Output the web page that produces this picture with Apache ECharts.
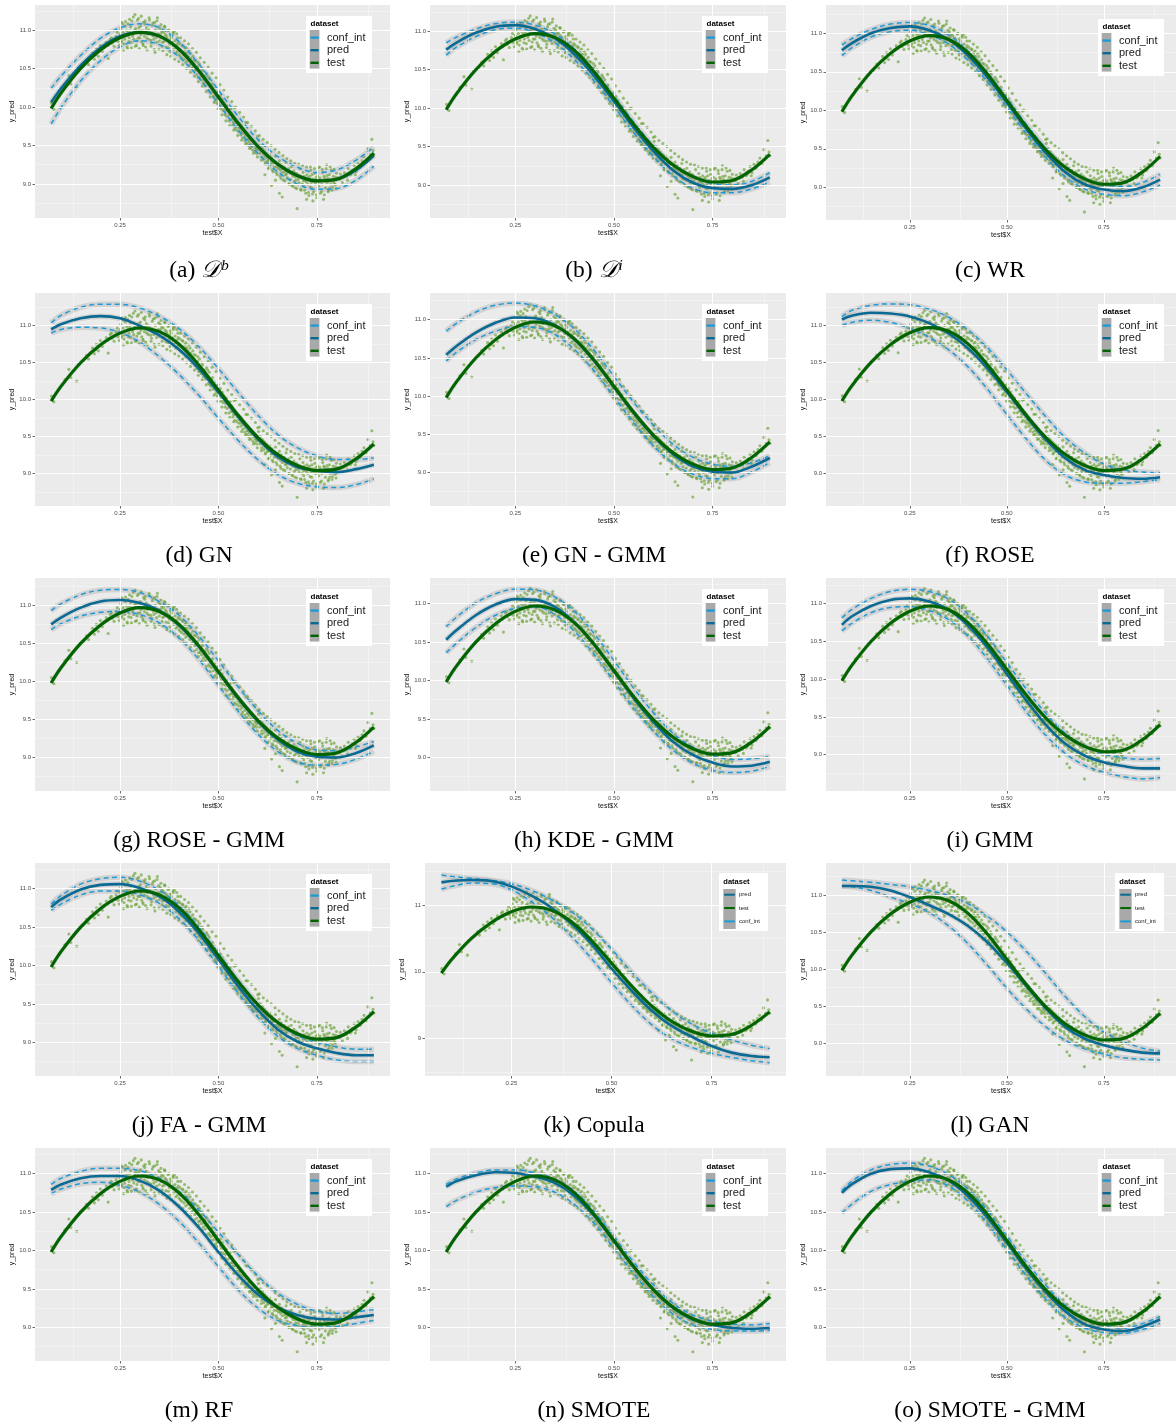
<!DOCTYPE html>
<html><head><meta charset="utf-8">
<script src="https://cdn.jsdelivr.net/npm/echarts/dist/echarts.min.js"></script>
<style>html,body{margin:0;padding:0;background:#fff}#c{width:1176px;height:1428px}</style>
</head><body><div id="c"></div>
<script>
// ---------------- DATA ----------------
const xs = [0.075,0.1,0.15,0.2,0.25,0.3,0.35,0.4,0.45,0.5,0.55,0.6,0.65,0.7,0.75,0.8,0.85,0.895];
const testLine = [9.98,10.18,10.50,10.74,10.90,10.97,10.92,10.75,10.47,10.13,9.79,9.49,9.26,9.11,9.04,9.06,9.20,9.40];

const predA = [10.06,10.24,10.54,10.77,10.92,10.97,10.92,10.75,10.47,10.13,9.79,9.49,9.26,9.11,9.04,9.06,9.18,9.37];
const upA   = [10.24,10.40,10.67,10.89,11.03,11.08,11.03,10.85,10.56,10.22,9.88,9.58,9.36,9.22,9.15,9.18,9.31,9.48];
const loA   = [9.78,9.99,10.34,10.60,10.78,10.86,10.81,10.65,10.38,10.04,9.70,9.40,9.16,9.00,8.93,8.94,9.05,9.23];

const predB = [10.76,10.85,10.98,11.06,11.08,11.03,10.91,10.70,10.42,10.09,9.75,9.44,9.19,9.03,8.96,8.95,9.00,9.10];
const upB   = [10.85,10.92,11.03,11.10,11.12,11.08,10.97,10.77,10.49,10.16,9.82,9.51,9.26,9.10,9.02,9.00,9.05,9.16];
const loB   = [10.69,10.79,10.93,11.02,11.04,10.98,10.85,10.63,10.35,10.02,9.68,9.37,9.12,8.96,8.90,8.90,8.95,9.04];

const predC = [10.78,10.87,11.00,11.07,11.09,11.04,10.92,10.71,10.43,10.10,9.76,9.45,9.20,9.04,8.97,8.95,9.00,9.10];
const upC   = [10.85,10.93,11.05,11.12,11.14,11.10,10.98,10.77,10.49,10.16,9.82,9.51,9.26,9.10,9.03,9.01,9.06,9.17];
const loC   = [10.71,10.81,10.95,11.02,11.04,10.98,10.86,10.65,10.37,10.04,9.70,9.39,9.14,8.98,8.91,8.89,8.94,9.03];

const predD = [10.95,11.02,11.10,11.13,11.10,11.00,10.87,10.68,10.42,10.10,9.77,9.47,9.23,9.09,9.04,9.02,9.06,9.12];
const upD   = [11.04,11.14,11.25,11.29,11.29,11.24,11.13,10.96,10.72,10.42,10.10,9.79,9.53,9.35,9.24,9.19,9.19,9.21];
const loD   = [10.90,10.95,10.98,10.97,10.91,10.78,10.58,10.34,10.06,9.75,9.45,9.19,8.99,8.87,8.82,8.81,8.85,8.93];

const predE = [10.54,10.65,10.83,10.96,11.03,11.02,10.93,10.74,10.46,10.12,9.78,9.48,9.24,9.08,9.01,9.00,9.08,9.19];
const upE   = [10.85,10.95,11.10,11.19,11.22,11.18,11.07,10.88,10.60,10.26,9.92,9.62,9.37,9.20,9.11,9.08,9.13,9.22];
const loE   = [10.46,10.57,10.74,10.85,10.91,10.90,10.81,10.61,10.33,9.99,9.65,9.35,9.12,8.98,8.92,8.92,9.01,9.13];

const predF = [11.08,11.13,11.17,11.16,11.12,11.03,10.89,10.69,10.42,10.10,9.77,9.46,9.21,9.05,8.98,8.94,8.93,8.95];
const upF   = [11.12,11.20,11.27,11.29,11.28,11.22,11.11,10.94,10.70,10.40,10.08,9.77,9.49,9.28,9.13,9.05,9.02,9.01];
const loF   = [11.00,11.04,11.07,11.04,10.96,10.84,10.67,10.44,10.14,9.80,9.47,9.18,8.98,8.89,8.87,8.87,8.89,8.92];

const predG = [10.75,10.84,10.97,11.05,11.07,11.03,10.93,10.74,10.46,10.12,9.78,9.48,9.24,9.08,9.01,9.00,9.06,9.16];
const upG   = [10.93,11.02,11.14,11.20,11.21,11.17,11.05,10.87,10.60,10.27,9.93,9.62,9.36,9.19,9.10,9.09,9.14,9.21];
const loG   = [10.68,10.76,10.86,10.91,10.92,10.88,10.77,10.57,10.29,9.95,9.61,9.31,9.08,8.94,8.90,8.91,8.98,9.08];

const predH = [10.53,10.65,10.85,10.99,11.06,11.05,10.96,10.76,10.47,10.12,9.77,9.46,9.20,9.03,8.93,8.88,8.89,8.94];
const upH   = [10.70,10.82,11.01,11.13,11.19,11.18,11.09,10.90,10.61,10.26,9.90,9.58,9.31,9.13,9.02,8.97,8.98,9.01];
const loH   = [10.36,10.48,10.69,10.85,10.94,10.96,10.86,10.64,10.34,9.99,9.64,9.34,9.09,8.92,8.83,8.80,8.82,8.88];

const predI = [10.72,10.83,10.97,11.05,11.07,11.03,10.92,10.71,10.42,10.07,9.72,9.40,9.15,8.99,8.90,8.85,8.82,8.82];
const upI   = [10.81,10.92,11.07,11.16,11.19,11.16,11.06,10.86,10.57,10.22,9.87,9.55,9.29,9.12,9.01,8.96,8.94,8.95];
const loI   = [10.64,10.74,10.88,10.95,10.96,10.91,10.79,10.57,10.27,9.92,9.57,9.26,9.02,8.86,8.77,8.71,8.68,8.70];

const predJ = [10.76,10.86,10.99,11.05,11.06,11.01,10.90,10.70,10.42,10.08,9.73,9.42,9.17,9.01,8.92,8.86,8.83,8.83];
const upJ   = [10.80,10.91,11.06,11.13,11.15,11.10,10.98,10.78,10.50,10.16,9.81,9.50,9.25,9.09,9.00,8.94,8.91,8.91];
const loJ   = [10.72,10.80,10.92,10.97,10.97,10.92,10.81,10.61,10.33,9.99,9.64,9.33,9.08,8.92,8.83,8.77,8.75,8.75];

const predK = [11.34,11.36,11.375,11.36,11.28,11.14,10.96,10.72,10.42,10.05,9.72,9.42,9.19,9.03,8.89,8.79,8.74,8.72];
const upK   = [11.45,11.43,11.40,11.37,11.32,11.22,11.08,10.90,10.65,10.34,10.00,9.69,9.42,9.22,9.08,8.98,8.90,8.85];
const loK   = [11.24,11.28,11.33,11.32,11.23,11.05,10.82,10.53,10.20,9.84,9.50,9.21,9.00,8.87,8.78,8.72,8.67,8.64];

const predL = [11.12,11.12,11.11,11.06,10.97,10.86,10.74,10.58,10.36,10.08,9.77,9.47,9.22,9.06,8.97,8.91,8.87,8.86];
const upL   = [11.20,11.19,11.17,11.14,11.11,11.06,10.99,10.88,10.71,10.50,10.24,9.94,9.63,9.36,9.15,9.02,8.93,8.89];
const loL   = [11.12,11.11,11.06,10.97,10.88,10.76,10.58,10.34,10.05,9.74,9.46,9.22,9.04,8.92,8.85,8.80,8.78,8.77];

const predM = [10.79,10.86,10.94,10.97,10.97,10.91,10.78,10.57,10.30,9.98,9.68,9.43,9.26,9.16,9.11,9.10,9.13,9.16];
const upM   = [10.86,10.94,11.03,11.07,11.07,11.04,10.94,10.77,10.53,10.24,9.95,9.67,9.45,9.30,9.21,9.18,9.20,9.23];
const loM   = [10.74,10.80,10.87,10.89,10.85,10.76,10.60,10.38,10.10,9.79,9.49,9.25,9.09,9.02,9.00,9.01,9.05,9.09];

const predN = [10.83,10.90,10.98,11.02,11.01,10.96,10.88,10.71,10.45,10.12,9.79,9.49,9.25,9.10,9.03,8.99,8.98,8.99];
const upN   = [10.86,10.93,11.01,11.05,11.05,11.01,10.93,10.77,10.51,10.18,9.85,9.55,9.31,9.16,9.08,9.04,9.03,9.05];
const loN   = [10.57,10.65,10.76,10.82,10.84,10.83,10.76,10.60,10.35,10.03,9.70,9.40,9.17,9.03,8.97,8.95,8.95,8.96];

const predO = [10.75,10.86,11.00,11.06,11.07,11.02,10.91,10.71,10.43,10.10,9.76,9.46,9.21,9.04,8.97,8.95,9.01,9.10];
const upO   = [10.78,10.90,11.05,11.12,11.14,11.10,10.99,10.80,10.52,10.19,9.85,9.55,9.29,9.11,9.02,8.99,9.05,9.14];
const loO   = [10.49,10.60,10.77,10.86,10.90,10.92,10.84,10.64,10.35,10.01,9.67,9.37,9.13,8.99,8.93,8.92,8.97,9.05];

// test observations (same in every panel)
const testPoints = [
[0.076,10.05],[0.079,10.01],[0.082,9.97],[0.095,10.14],[0.11,10.27],[0.12,10.41],[0.125,10.30],[0.14,10.25],[0.145,10.48],[0.155,10.52],
[0.165,10.60],[0.17,10.55],[0.18,10.70],[0.185,10.62],[0.19,10.75],[0.195,10.66],[0.2,10.80],[0.205,10.72],[0.21,10.78],[0.215,10.84],
[0.22,10.63],[0.225,10.88],[0.23,10.83],[0.235,10.79],[0.24,10.92],[0.245,10.85],[0.25,10.95],[0.248,10.80],
[0.252,11.02],[0.255,10.86],[0.258,10.97],[0.26,10.82],[0.263,11.05],[0.266,10.93],[0.268,10.78],[0.27,11.08],[0.273,10.90],[0.275,10.99],
[0.278,10.84],[0.28,11.12],[0.283,10.95],[0.285,10.88],[0.288,11.20],[0.29,11.02],[0.292,10.80],[0.295,10.97],[0.297,11.15],[0.3,10.90],
[0.302,11.05],[0.305,10.85],[0.307,10.99],[0.31,11.10],[0.312,10.92],[0.315,10.78],[0.317,11.03],[0.32,10.95],[0.322,10.88],[0.325,11.13],
[0.327,10.97],[0.33,10.83],[0.332,11.06],[0.335,10.92],[0.337,10.75],[0.34,11.00],[0.342,10.90],[0.345,11.16],[0.347,10.95],[0.35,10.86],
[0.352,11.02],[0.355,10.90],[0.357,10.79],[0.36,10.97],[0.362,10.85],[0.365,10.94],[0.367,10.78],[0.37,10.89],[0.372,10.99],[0.375,10.82],
[0.377,10.72],[0.38,10.90],[0.382,10.80],[0.385,10.95],[0.387,10.75],[0.39,10.86],[0.392,10.70],[0.395,10.81],[0.397,10.90],[0.4,10.68],
[0.402,10.82],[0.405,10.72],[0.407,10.64],[0.41,10.79],[0.412,10.68],[0.415,10.75],[0.417,10.58],[0.42,10.70],[0.422,10.60],[0.425,10.74],
[0.427,10.55],[0.43,10.63],[0.432,10.50],[0.435,10.66],[0.437,10.56],[0.44,10.47],[0.442,10.60],[0.445,10.42],[0.447,10.52],[0.45,10.38],
[0.452,10.55],[0.455,10.44],[0.457,10.35],[0.46,10.47],[0.462,10.31],[0.465,10.40],[0.467,10.28],[0.47,10.43],[0.472,10.32],[0.475,10.22],
[0.477,10.37],[0.48,10.25],[0.482,10.18],[0.485,10.30],[0.487,10.14],[0.49,10.24],[0.492,10.08],[0.495,10.19],[0.497,10.05],[0.5,10.20],
[0.502,10.06],[0.505,10.15],[0.507,9.98],[0.51,10.10],[0.512,9.96],[0.515,10.04],[0.517,9.90],[0.52,10.02],[0.522,9.88],[0.525,9.95],
[0.527,9.82],[0.53,9.97],[0.532,9.84],[0.535,9.90],[0.537,9.76],[0.54,9.86],[0.542,9.72],[0.545,9.83],[0.547,9.70],[0.55,9.80],
[0.552,9.68],[0.555,9.77],[0.557,9.64],[0.56,9.74],[0.562,9.60],[0.565,9.70],[0.567,9.56],[0.57,9.66],[0.572,9.53],[0.575,9.64],
[0.577,9.50],[0.58,9.60],[0.582,9.47],[0.585,9.57],[0.587,9.44],[0.59,9.55],[0.592,9.42],[0.595,9.52],[0.597,9.40],[0.6,9.48],
[0.602,9.57],[0.605,9.40],[0.607,9.50],[0.61,9.35],[0.612,9.46],[0.615,9.32],[0.617,9.43],[0.62,9.28],[0.622,9.40],[0.625,9.30],
[0.627,9.20],[0.63,9.38],[0.632,9.25],[0.635,9.34],[0.637,9.18],[0.64,9.30],[0.642,9.22],[0.645,9.36],[0.647,9.15],[0.65,9.27],
[0.652,9.20],[0.655,9.30],[0.657,9.10],[0.66,9.25],[0.662,9.15],[0.665,9.05],[0.667,9.22],[0.67,9.12],[0.672,9.28],[0.675,9.08],
[0.677,9.18],[0.68,9.00],[0.682,9.14],[0.685,9.22],[0.687,8.98],[0.69,9.10],[0.692,9.17],[0.695,8.95],[0.697,9.05],[0.7,8.68],
[0.702,9.12],[0.705,9.02],[0.707,9.20],[0.71,8.92],[0.712,9.08],[0.715,9.15],[0.717,8.97],[0.72,9.05],[0.722,8.88],[0.725,9.12],
[0.727,9.00],[0.73,8.85],[0.732,9.10],[0.735,9.18],[0.737,8.95],[0.74,9.06],[0.742,8.90],[0.745,9.14],[0.747,9.00],[0.75,8.82],
[0.752,9.10],[0.755,8.97],[0.757,9.22],[0.76,9.04],[0.762,8.90],[0.765,9.15],[0.767,8.80],[0.77,9.08],[0.772,8.95],[0.775,9.25],
[0.777,9.02],[0.78,8.92],[0.782,9.12],[0.785,9.00],[0.787,9.18],[0.79,8.96],[0.792,9.10],[0.795,9.05],[0.797,8.99],[0.8,9.14],
[0.805,9.08],[0.81,9.13],[0.815,9.02],[0.82,9.15],[0.825,9.10],[0.83,9.20],[0.835,9.12],[0.84,9.18],[0.845,9.24],[0.85,9.16],
[0.855,9.27],[0.86,9.22],[0.865,9.30],[0.87,9.35],[0.875,9.28],[0.88,9.46],[0.885,9.38],[0.89,9.58],[0.893,9.43],[0.895,9.38],
[0.251,10.90],[0.257,11.08],[0.262,10.88],[0.267,10.99],[0.272,10.85],[0.277,11.04],[0.282,10.92],[0.287,11.00],[0.293,10.86],[0.298,11.03],
[0.303,10.94],[0.308,10.82],[0.313,11.08],[0.318,10.90],[0.323,11.00],[0.328,10.87],[0.333,10.96],[0.338,11.10],[0.343,10.84],[0.348,11.04],
[0.353,10.95],[0.358,10.84],[0.363,11.05],[0.368,10.92],[0.373,10.77],[0.378,10.93],[0.383,10.84],[0.388,10.98],[0.393,10.76],[0.398,10.84],
[0.403,10.66],[0.408,10.80],[0.413,10.62],[0.418,10.77],[0.423,10.66],[0.428,10.70],[0.433,10.56],[0.438,10.61],[0.443,10.49],[0.448,10.58],
[0.453,10.38],[0.458,10.50],[0.463,10.36],[0.468,10.33],[0.473,10.40],[0.478,10.20],[0.483,10.27],[0.488,10.20],[0.493,10.15],[0.498,10.10],
[0.503,10.12],[0.508,10.03],[0.513,10.06],[0.518,9.95],[0.523,9.97],[0.528,9.90],[0.533,9.92],[0.538,9.80],[0.543,9.80],[0.548,9.75],
[0.553,9.73],[0.558,9.68],[0.563,9.66],[0.568,9.62],[0.573,9.58],[0.578,9.55],[0.583,9.52],[0.588,9.50],[0.593,9.47],[0.598,9.44],
[0.603,9.45],[0.608,9.43],[0.613,9.40],[0.618,9.36],[0.623,9.34],[0.628,9.31],[0.633,9.30],[0.638,9.26],[0.643,9.28],[0.648,9.22],
[0.653,9.24],[0.658,9.18],[0.663,9.20],[0.668,9.16],[0.673,9.13],[0.678,9.20],[0.683,9.06],[0.688,9.12],[0.693,9.03],[0.698,9.14],
[0.703,9.06],[0.708,9.10],[0.713,9.00],[0.718,9.10],[0.723,9.03],[0.728,9.08],[0.733,8.96],[0.738,9.12],[0.743,9.03],[0.748,9.08],
[0.753,9.02],[0.758,9.08],[0.763,9.00],[0.768,9.10],[0.773,9.03],[0.778,9.07],[0.783,8.95],[0.788,9.06],[0.793,9.02],[0.798,9.09],
[0.655,8.88],[0.662,8.83],[0.724,8.80],[0.74,8.78],[0.635,8.98],[0.645,9.05],[0.618,9.12],[0.6,9.62],[0.57,9.80],[0.54,9.99],
[0.254,11.10],[0.259,10.74],[0.264,11.11],[0.269,10.76],[0.274,11.14],[0.279,10.77],[0.284,11.17],[0.289,10.79],[0.294,11.13],[0.299,10.76],
[0.304,11.18],[0.309,10.80],[0.314,11.12],[0.319,10.74],[0.324,11.16],[0.329,10.79],[0.334,11.09],[0.339,10.71],[0.344,11.12],[0.349,10.75],
[0.354,11.07],[0.359,10.73],[0.364,11.04],[0.369,10.68],[0.374,11.00],[0.379,10.66],[0.384,10.97],[0.389,10.62],[0.394,10.95],[0.399,10.59],
[0.404,10.90],[0.409,10.55],[0.414,10.86],[0.419,10.50],[0.424,10.82],[0.429,10.45],[0.434,10.76],[0.439,10.40],[0.444,10.71],[0.449,10.33],
[0.454,10.64],[0.459,10.27],[0.464,10.58],[0.469,10.20],[0.474,10.52],[0.479,10.13],[0.484,10.44],[0.489,10.06],[0.494,10.38],[0.499,9.98],
[0.504,10.29],[0.509,9.90],[0.514,10.22],[0.519,9.82],[0.524,10.13],[0.529,9.76],[0.534,10.07],[0.539,9.70],[0.544,10.00],[0.549,9.63],
[0.554,9.93],[0.559,9.57],[0.564,9.87],[0.569,9.52],[0.574,9.80],[0.579,9.46],[0.584,9.75],[0.589,9.40],[0.594,9.69],[0.599,9.35],
[0.604,9.63],[0.609,9.31],[0.614,9.58],[0.619,9.26],[0.624,9.54],[0.629,9.21],[0.634,9.50],[0.639,9.16],[0.644,9.45],[0.649,9.12],
[0.654,9.41],[0.659,9.07],[0.664,9.37],[0.669,9.04],[0.674,9.33],[0.679,9.00],[0.684,9.30],[0.689,8.97],[0.694,9.27],[0.699,8.94],
[0.704,9.26],[0.709,8.93],[0.714,9.24],[0.719,8.92],[0.724,9.22],[0.729,8.89],[0.734,9.22],[0.739,8.87],[0.744,9.20],[0.749,8.86],
[0.754,9.21],[0.759,8.88],[0.764,9.19],[0.769,8.86],[0.774,9.20],[0.779,8.90],[0.784,9.22],[0.789,8.92],[0.794,9.19],[0.799,8.94],
[0.253,10.84],[0.271,10.96],[0.296,10.90],[0.316,10.99],[0.336,10.88],[0.356,10.98],[0.376,10.87],[0.396,10.72],[0.416,10.70],[0.436,10.52],
[0.456,10.41],[0.476,10.29],[0.496,10.12],[0.516,10.00],[0.536,9.84],[0.556,9.72],[0.576,9.58],[0.596,9.46],[0.616,9.39],[0.636,9.27],
[0.656,9.21],[0.676,9.16],[0.696,9.09],[0.716,9.04],[0.736,9.02],[0.756,9.05],[0.776,9.11],[0.796,9.00],[0.808,9.06],[0.818,9.09],
[0.828,9.05],[0.838,9.14],[0.848,9.12],[0.175,10.63],[0.188,10.68],[0.208,10.76],[0.218,10.80],[0.228,10.90],[0.238,10.86],[0.243,10.97]
];

const xTicks = [0.25, 0.5, 0.75];
const xMinor = [0.125, 0.375, 0.625, 0.875];
const yTicks = [9.0, 9.5, 10.0, 10.5, 11.0];
const yMinor = [8.75, 9.25, 9.75, 10.25, 10.75, 11.25];
const yTicksWide = [9, 10, 11];
const yMinorWide = [8.5, 9.5, 10.5, 11.5];
const legendStd = ['conf_int', 'pred', 'test'];
const legendAlt = ['pred', 'test', 'conf_int'];

// ---------------- LAYOUT ----------------
const panels = [
 {cap:'(a) {d|𝒟}{s|b}', pred:predA, up:upA, lo:loA, left:35,  top:5,    width:355, height:213, ymin:8.558, ymax:11.325},
 {cap:'(b) {d|𝒟}{s|i}', pred:predB, up:upB, lo:loB, left:430, top:5,    width:356, height:213, ymin:8.571, ymax:11.342},
 {cap:'(c) WR',          pred:predC, up:upC, lo:loC, left:826, top:5,    width:356, height:215, ymin:8.575, ymax:11.368, legDy:3},
 {cap:'(d) GN',          pred:predD, up:upD, lo:loD, left:35,  top:293,  width:355, height:213, ymin:8.561, ymax:11.443},
 {cap:'(e) GN - GMM',    pred:predE, up:upE, lo:loE, left:430, top:293,  width:356, height:213, ymin:8.562, ymax:11.350},
 {cap:'(f) ROSE',        pred:predF, up:upF, lo:loF, left:826, top:293,  width:356, height:213, ymin:8.562, ymax:11.437},
 {cap:'(g) ROSE - GMM',  pred:predG, up:upG, lo:loG, left:35,  top:578,  width:355, height:213, ymin:8.560, ymax:11.360},
 {cap:'(h) KDE - GMM',   pred:predH, up:upH, lo:loH, left:430, top:578,  width:356, height:213, ymin:8.560, ymax:11.335},
 {cap:'(i) GMM',         pred:predI, up:upI, lo:loI, left:826, top:578,  width:356, height:213, ymin:8.520, ymax:11.340},
 {cap:'(j) FA - GMM',    pred:predJ, up:upJ, lo:loJ, left:35,  top:863,  width:355, height:213, ymin:8.560, ymax:11.335},
 {cap:'(k) Copula',      pred:predK, up:upK, lo:loK, left:425, top:863,  width:361, height:213, ymin:8.440, ymax:11.630, wide:true, alt:true},
 {cap:'(l) GAN',         pred:predL, up:upL, lo:loL, left:826, top:863,  width:356, height:213, ymin:8.554, ymax:11.430, alt:true},
 {cap:'(m) RF',          pred:predM, up:upM, lo:loM, left:35,  top:1148, width:355, height:213, ymin:8.560, ymax:11.335},
 {cap:'(n) SMOTE',       pred:predN, up:upN, lo:loN, left:430, top:1148, width:356, height:213, ymin:8.560, ymax:11.335},
 {cap:'(o) SMOTE - GMM', pred:predO, up:upO, lo:loO, left:826, top:1148, width:356, height:213, ymin:8.560, ymax:11.335}
];
const capCenters = [199, 594, 990];

const TEST_C = '#006400', PRED_C = '#0A6A94', CONF_C = '#1E9BD7';
const RIB = 'rgba(140,140,140,0.26)';
const colorOf = {conf_int: CONF_C, pred: PRED_C, test: TEST_C};

const grids = [], xAxes = [], yAxes = [], series = [], graphics = [];
const toPts = arr => xs.map((x, k) => [x, arr[k]]);

panels.forEach((p, i) => {
  grids.push({left:p.left, top:p.top, width:p.width, height:p.height, show:true, backgroundColor:'#EBEBEB', borderWidth:0});
  const yt = p.wide ? yTicksWide : yTicks;
  const ym = (p.wide ? yMinorWide : yMinor).filter(v => v > p.ymin && v < p.ymax);
  xAxes.push({
    gridIndex:i, type:'value', min:0.034, max:0.936,
    axisLine:{show:false}, splitLine:{show:false},
    axisTick:{show:true, customValues:xTicks, length:2.5, lineStyle:{color:'#444', width:0.8}},
    axisLabel:{customValues:xTicks, formatter:v => v.toFixed(2), fontSize:6, color:'#4D4D4D', margin:4, fontFamily:'Liberation Sans'},
    name:'test$X', nameLocation:'middle', nameGap:12,
    nameTextStyle:{fontSize:7, color:'#111', fontFamily:'Liberation Sans'}
  });
  yAxes.push({
    gridIndex:i, type:'value', min:p.ymin, max:p.ymax,
    axisLine:{show:false}, splitLine:{show:false},
    axisTick:{show:true, customValues:yt, length:2.5, lineStyle:{color:'#444', width:0.8}},
    axisLabel:{customValues:yt, formatter:v => p.wide ? String(Math.round(v)) : v.toFixed(1), fontSize:6, color:'#4D4D4D', margin:4, fontFamily:'Liberation Sans'},
    name:'y_pred', nameLocation:'middle', nameGap:19, nameRotate:90,
    nameTextStyle:{fontSize:7, color:'#111', fontFamily:'Liberation Sans'}
  });
  const gl = [];
  xMinor.forEach(v => gl.push({xAxis:v, lineStyle:{color:'#F7F7F7', width:0.6, type:'solid'}}));
  ym.forEach(v => gl.push({yAxis:v, lineStyle:{color:'#F7F7F7', width:0.6, type:'solid'}}));
  xTicks.forEach(v => gl.push({xAxis:v, lineStyle:{color:'#FFFFFF', width:1.1, type:'solid'}}));
  yt.forEach(v => gl.push({yAxis:v, lineStyle:{color:'#FFFFFF', width:1.1, type:'solid'}}));
  series.push({type:'line', xAxisIndex:i, yAxisIndex:i, data:[], z:1, silent:true,
    markLine:{silent:true, symbol:['none','none'], label:{show:false}, emphasis:{disabled:true}, animation:false, data:gl}});
  series.push({type:'scatter', xAxisIndex:i, yAxisIndex:i, data:testPoints, z:2, silent:true,
    symbol:'circle', symbolSize:3.1, itemStyle:{color:'rgba(100,160,45,0.8)'}});
  const lineS = (arr, color, width, z, dash) => ({
    type:'line', xAxisIndex:i, yAxisIndex:i, data:toPts(arr), smooth:0.35, showSymbol:false, symbol:'none', silent:true, z:z,
    lineStyle:{color:color, width:width, type: dash ? [5,3.5] : 'solid', cap:'butt'}
  });
  series.push(lineS(p.up, RIB, 5.5, 3));
  series.push(lineS(p.lo, RIB, 5.5, 3));
  series.push(lineS(p.pred, RIB, 5.5, 3));
  series.push(lineS(testLine, RIB, 4.2, 3));
  series.push(lineS(p.up, CONF_C, 1.5, 4, true));
  series.push(lineS(p.lo, CONF_C, 1.5, 4, true));
  series.push(lineS(p.pred, PRED_C, 2.6, 5));
  series.push(lineS(testLine, TEST_C, 3.1, 6));

  // legend box
  const right = p.left + p.width - 18;
  if (!p.alt) {
    const bx = right - 66, by = p.top + 11 + (p.legDy || 0);
    graphics.push({type:'rect', shape:{x:bx, y:by, width:66, height:57}, style:{fill:'#fff'}, z:100, silent:true});
    graphics.push({type:'text', x:bx+4.5, y:by+8, z:101, silent:true,
      style:{text:'dataset', font:'bold 8px "Liberation Sans"', fill:'#000', textVerticalAlign:'middle', verticalAlign:'middle'}});
    graphics.push({type:'rect', shape:{x:bx+3.7, y:by+14, width:9.7, height:38.6}, style:{fill:'#A9A9A9'}, z:101, silent:true});
    legendStd.forEach((name, k) => {
      const y = by + 21.6 + k * 12.6;
      graphics.push({type:'line', shape:{x1:bx+4.4, y1:y, x2:bx+12.7, y2:y}, style:{stroke:colorOf[name], lineWidth:2.4}, z:102, silent:true});
      graphics.push({type:'text', x:bx+21, y:y, z:102, silent:true,
        style:{text:name, font:'11px "Liberation Sans"', fill:'#1A1A1A', textVerticalAlign:'middle', verticalAlign:'middle'}});
    });
  } else {
    const bx = right - 49, by = p.top + 10;
    graphics.push({type:'rect', shape:{x:bx, y:by, width:49, height:58}, style:{fill:'#fff'}, z:100, silent:true});
    graphics.push({type:'text', x:bx+4.3, y:by+9.4, z:101, silent:true,
      style:{text:'dataset', font:'bold 7.5px "Liberation Sans"', fill:'#000', textVerticalAlign:'middle', verticalAlign:'middle'}});
    graphics.push({type:'rect', shape:{x:bx+4.3, y:by+16, width:12.4, height:40}, style:{fill:'#A9A9A9'}, z:101, silent:true});
    legendAlt.forEach((name, k) => {
      const y = by + 21.7 + k * 13.35;
      graphics.push({type:'line', shape:{x1:bx+5.2, y1:y, x2:bx+15.8, y2:y}, style:{stroke:colorOf[name], lineWidth:2}, z:102, silent:true});
      graphics.push({type:'text', x:bx+20, y:y, z:102, silent:true,
        style:{text:name, font:'6px "Liberation Sans"', fill:'#1A1A1A', textVerticalAlign:'middle', verticalAlign:'middle'}});
    });
  }
  // caption
  const row = Math.floor(i / 3), col = i % 3;
  graphics.push({type:'text', x:capCenters[col], y:271 + row * 285, z:100, silent:true,
    style:{text:p.cap, font:'23.5px "Liberation Serif"', fill:'#000',
      textAlign:'center', align:'center', textVerticalAlign:'middle', verticalAlign:'middle',
      rich:{
        d:{fontSize:23.5, fontFamily:'DejaVu Serif', fontStyle:'italic'},
        s:{fontSize:15, fontFamily:'Liberation Serif', fontStyle:'italic', verticalAlign:'top', padding:[0,0,10,1]}
      }}});
});

const chart = echarts.init(document.getElementById('c'), null, {renderer:'canvas', width:1176, height:1428});
chart.setOption({
  animation:false, backgroundColor:'#ffffff',
  grid:grids, xAxis:xAxes, yAxis:yAxes, series:series, graphic:{elements:graphics}
});
</script></body></html>
